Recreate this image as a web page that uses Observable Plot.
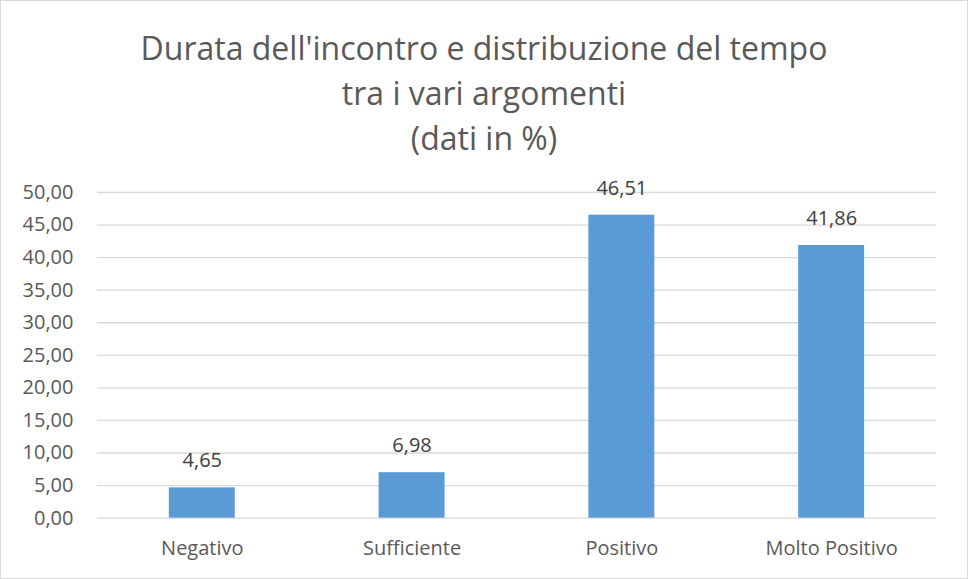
<!DOCTYPE html>
<html><head><meta charset="utf-8">
<script src="https://cdn.jsdelivr.net/npm/d3@7"></script>
<script src="https://cdn.jsdelivr.net/npm/@observablehq/plot@0.6"></script>
<style>
body{margin:0;background:#fff;}
#wrap{position:relative;width:966px;height:577px;border:1px solid #d9d9d9;overflow:hidden;font-family:"Open Sans",sans-serif;}
#title{position:absolute;left:0;top:24px;width:966px;text-align:center;color:#595959;font-size:32px;line-height:45px;}
#chart{position:absolute;left:-1px;top:169px;}
</style></head>
<body>
<div id="wrap">
<div id="title">Durata dell'incontro e distribuzione del tempo<br>tra i vari argomenti<br>(dati in %)</div>
<div id="chart"></div>
</div>
<script>
const categories = ["Negativo","Sufficiente","Positivo","Molto Positivo"];
const values = [4.65, 6.98, 46.51, 41.86];
const yTicks = [0,5,10,15,20,25,30,35,40,45,50];

const data = categories.map((c,i)=>({cat:c, val:values[i]}));
const fmt = v => v.toFixed(2).replace(".", ",");

const chart = Plot.plot({
  width: 968,
  height: 408,
  marginTop: 22,
  marginBottom: 60,
  marginLeft: 97,
  marginRight: 31,
  style: {fontFamily: '"Open Sans", sans-serif', fontSize: "20px", color: "#595959", background: "transparent"},
  x: {domain: categories, paddingInner: 0.686, paddingOuter: 0.343, align: 0.5, label: null, tickSize: 0, tickPadding: 23},
  y: {domain: [0,50], ticks: yTicks, label: null, tickSize: 0, tickPadding: 24, tickFormat: fmt},
  marks: [
    Plot.gridY(yTicks, {stroke: "#d9d9d9", strokeOpacity: 1, strokeWidth: 1.3}),
    Plot.barY(data, {x: "cat", y: "val", fill: "#5b9bd5"}),
    Plot.text(data, {x: "cat", y: "val", text: d => fmt(d.val), dy: -27, fill: "#404040", fontSize: 20})
  ]
});
document.getElementById("chart").appendChild(chart);
</script>
</body></html>
